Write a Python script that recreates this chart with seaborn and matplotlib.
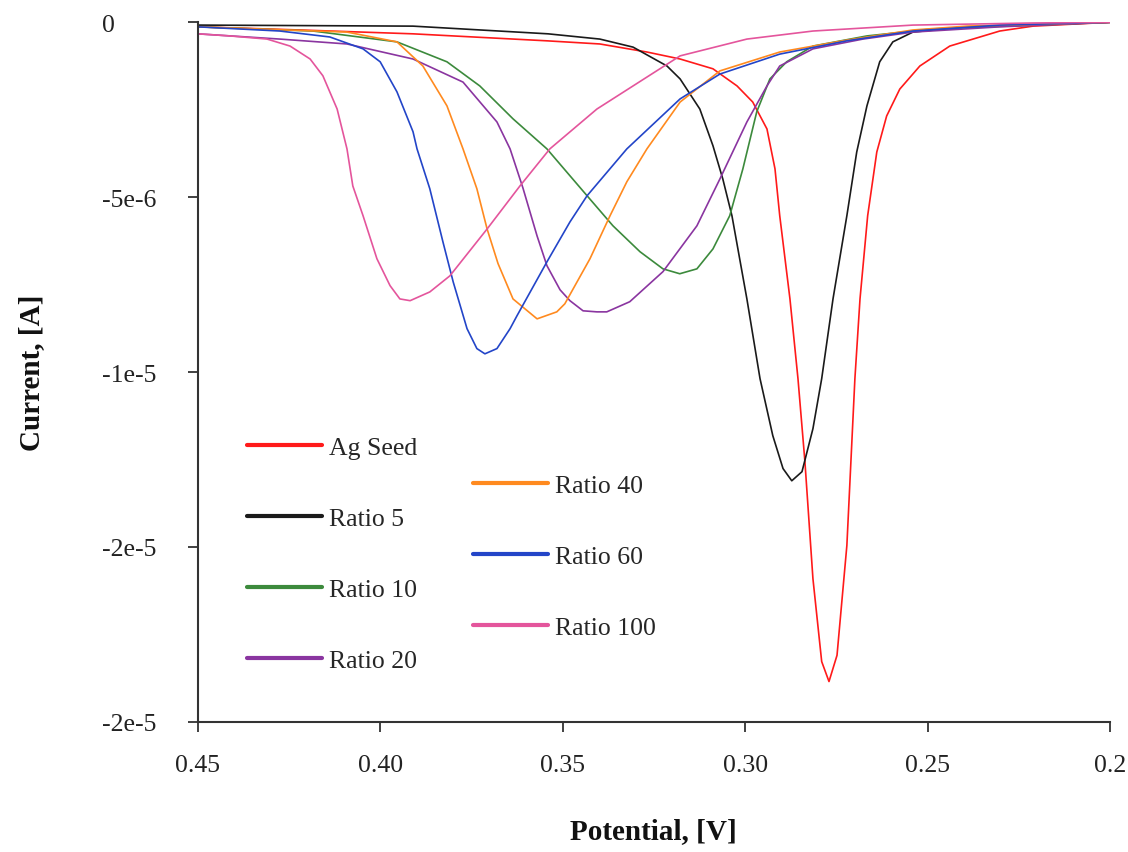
import numpy as np
import pandas as pd
import matplotlib
matplotlib.use("Agg")
import matplotlib.pyplot as plt
import seaborn as sns
from matplotlib.lines import Line2D

# Stripping voltammograms: potential [V] vs current [µA]
v_ag = [0.450, 0.4220, 0.3910, 0.3543, 0.3398, 0.3269, 0.3178, 0.3088, 0.3022, 0.2979,
        0.2940, 0.2918, 0.2905, 0.2877, 0.2855, 0.2836, 0.2814, 0.2790, 0.2770, 0.2748,
        0.2721, 0.2699, 0.2685, 0.2664, 0.2639, 0.2612, 0.2576, 0.2521, 0.2439, 0.2302,
        0.2211, 0.200]
i_ag = [-0.13, -0.22, -0.33, -0.53, -0.62, -0.85, -1.05, -1.33, -1.82, -2.28,
        -3.05, -4.19, -5.53, -7.91, -10.19, -12.56, -15.91, -18.28, -18.85, -18.10,
        -14.96, -10.19, -7.91, -5.53, -3.71, -2.68, -1.91, -1.25, -0.68, -0.25,
        -0.11, 0.0]

v_r5 = [0.450, 0.391, 0.354, 0.3398, 0.3307, 0.3214, 0.3178, 0.3124, 0.3088, 0.3061,
        0.3036, 0.2995, 0.2959, 0.2924, 0.2896, 0.2872, 0.2844, 0.2814, 0.2790,
        0.2759, 0.2721, 0.2694, 0.2666, 0.2631, 0.2595, 0.2540, 0.2393, 0.200]
i_r5 = [-0.08, -0.11, -0.33, -0.48, -0.71, -1.25, -1.62, -2.48, -3.53, -4.48,
        -5.53, -7.91, -10.19, -11.82, -12.76, -13.11, -12.85, -11.62, -10.19,
        -7.91, -5.53, -3.71, -2.39, -1.13, -0.56, -0.28, -0.13, 0.0]

v_r10 = [0.450, 0.4184, 0.3954, 0.3817, 0.3727, 0.3636, 0.3543, 0.3433, 0.3362, 0.3288,
         0.3225, 0.3179, 0.3132, 0.3088, 0.3042, 0.3006, 0.2968, 0.2932, 0.2886, 0.2814,
         0.2666, 0.2486, 0.200]
i_r10 = [-0.13, -0.25, -0.56, -1.13, -1.82, -2.76, -3.62, -4.96, -5.82, -6.56,
         -7.05, -7.19, -7.05, -6.48, -5.53, -4.19, -2.56, -1.62, -1.13, -0.68,
         -0.39, -0.19, 0.0]

v_r20 = [0.450, 0.4275, 0.4091, 0.3910, 0.3773, 0.3680, 0.3644, 0.3609, 0.3570, 0.3543,
         0.3507, 0.3480, 0.3444, 0.3406, 0.3379, 0.3316, 0.3225, 0.3132, 0.3069, 0.2995,
         0.2940, 0.2905, 0.2814, 0.2677, 0.2540, 0.2302, 0.200]
i_r20 = [-0.33, -0.48, -0.62, -1.05, -1.71, -2.85, -3.62, -4.73, -6.11, -6.96,
         -7.65, -7.96, -8.25, -8.28, -8.28, -7.99, -7.13, -5.82, -4.48, -2.85,
         -1.82, -1.25, -0.76, -0.48, -0.28, -0.13, 0.0]

v_r40 = [0.450, 0.4091, 0.3954, 0.3883, 0.3817, 0.3773, 0.3735, 0.3707, 0.3677, 0.3636,
         0.3570, 0.3516, 0.3494, 0.3425, 0.3370, 0.3324, 0.3269, 0.3178, 0.3069, 0.2905,
         0.2721, 0.2540, 0.2393, 0.200]
i_r40 = [-0.13, -0.28, -0.56, -1.25, -2.39, -3.62, -4.76, -5.91, -6.90, -7.91,
         -8.48, -8.28, -8.05, -6.76, -5.53, -4.56, -3.62, -2.28, -1.39, -0.85,
         -0.51, -0.22, -0.11, 0.0]

v_r60 = [0.450, 0.4275, 0.4138, 0.4047, 0.4000, 0.3954, 0.3910, 0.3899, 0.3864, 0.3828,
         0.3800, 0.3762, 0.3735, 0.3713, 0.3680, 0.3644, 0.3625, 0.3543, 0.3480, 0.3433,
         0.3324, 0.3178, 0.3069, 0.2905, 0.2721, 0.2540, 0.2302, 0.200]
i_r60 = [-0.13, -0.25, -0.42, -0.76, -1.13, -1.99, -3.13, -3.62, -4.76, -6.28,
         -7.42, -8.76, -9.33, -9.48, -9.33, -8.76, -8.39, -6.85, -5.71, -4.96,
         -3.62, -2.19, -1.48, -0.91, -0.53, -0.25, -0.08, 0.0]

v_r100 = [0.450, 0.4412, 0.4310, 0.4247, 0.4192, 0.4157, 0.4118, 0.4091, 0.4075, 0.4047,
          0.4009, 0.3973, 0.3946, 0.3918, 0.3864, 0.3809, 0.3707, 0.3617, 0.3535, 0.3406,
          0.3178, 0.2995, 0.2814, 0.2540, 0.2211, 0.200]
i_r100 = [-0.33, -0.39, -0.48, -0.68, -1.05, -1.53, -2.48, -3.62, -4.68, -5.53,
          -6.76, -7.53, -7.91, -7.96, -7.71, -7.25, -5.91, -4.68, -3.62, -2.48,
          -0.96, -0.48, -0.25, -0.08, -0.02, 0.0]

labels = ["Ag Seed", "Ratio 5", "Ratio 10", "Ratio 20", "Ratio 40", "Ratio 60", "Ratio 100"]
colors = ["#ff1a1a", "#1a1a1a", "#3c8a3c", "#8a35a0", "#ff8a1f", "#2345c8", "#e4559c"]

x_ticks = [0.45, 0.40, 0.35, 0.30, 0.25, 0.20]
x_ticklabels = ["0.45", "0.40", "0.35", "0.30", "0.25", "0.2"]
y_ticks = [0, -5e-6, -1e-5, -1.5e-5, -2e-5]
y_ticklabels = ["0", "-5e-6", "-1e-5", "-2e-5", "-2e-5"]

series = [(v_ag, i_ag), (v_r5, i_r5), (v_r10, i_r10), (v_r20, i_r20),
          (v_r40, i_r40), (v_r60, i_r60), (v_r100, i_r100)]
frames = []
for name, (v, i) in zip(labels, series):
    frames.append(pd.DataFrame({"Potential": v,
                                "Current": np.array(i) * 1e-6,
                                "Sample": name}))
df = pd.concat(frames, ignore_index=True)

sns.set_theme(style="white")
plt.rcParams["font.family"] = ["Liberation Serif", "DejaVu Serif"]

fig = plt.figure(figsize=(11.28, 8.53), dpi=100)
ax = fig.add_axes([0.1753, 0.1527, 0.8087, 0.8200])

palette = dict(zip(labels, colors))
sns.lineplot(data=df, x="Potential", y="Current", hue="Sample", palette=palette,
             sort=False, estimator=None, legend=False, linewidth=1.2, ax=ax)

ax.set_xlim(0.45, 0.20)
ax.set_ylim(-2e-5, 0)
ax.set_xticks(x_ticks)
ax.set_xticklabels(x_ticklabels)
ax.set_yticks(y_ticks)
ax.set_yticklabels(y_ticklabels)

for s in ["top", "right"]:
    ax.spines[s].set_visible(False)
for s in ["left", "bottom"]:
    ax.spines[s].set_color("#333333")
    ax.spines[s].set_linewidth(1.5)

ax.tick_params(axis="both", direction="out", length=7, width=1.3, color="#333333",
               labelsize=18.5, labelcolor="#222222", bottom=True, left=True)
ax.tick_params(axis="x", pad=16)
ax.tick_params(axis="y", pad=62)
for lbl in ax.get_yticklabels():
    lbl.set_horizontalalignment("left")

ax.set_xlabel("Potential, [V]", fontsize=21, fontweight="bold", color="#111111", labelpad=30)
ax.set_ylabel("Current, [A]", fontsize=21, fontweight="bold", color="#111111", labelpad=41)

# two staggered legend columns
def handles_for(names):
    return [Line2D([], [], color=palette[n], linewidth=3) for n in names]

left_names = labels[:4]
right_names = labels[4:]
leg_kw = dict(frameon=False, fontsize=18.5, handlelength=2.9, handletextpad=0.3,
              labelspacing=1.87, borderpad=0, borderaxespad=0, loc="upper left")
leg1 = ax.legend(handles_for(left_names), left_names,
                 bbox_to_anchor=(247 / 1128, 1 - 437 / 853),
                 bbox_transform=fig.transFigure, **leg_kw)
ax.add_artist(leg1)
leg2 = ax.legend(handles_for(right_names), right_names,
                 bbox_to_anchor=(473 / 1128, 1 - 475 / 853),
                 bbox_transform=fig.transFigure, **leg_kw)

fig.savefig("out.png", dpi=100, facecolor="white")
